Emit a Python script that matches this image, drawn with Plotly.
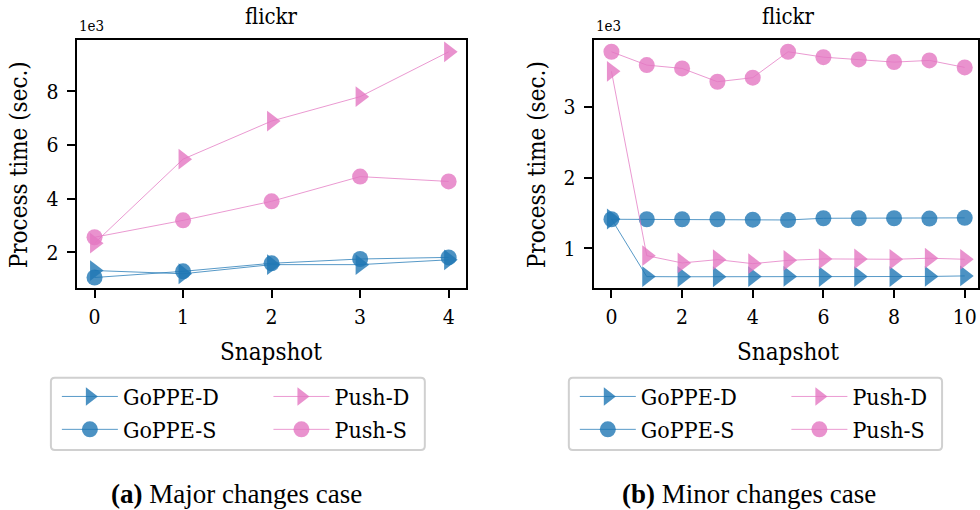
import plotly.graph_objects as go

W, H = 980, 510


def px(x):
    return x / W


def py(y):
    return 1 - y / H


# ---------------- data (seconds) ----------------
snap_major = [0, 1, 2, 3, 4]
snap_minor = [0, 1, 2, 3, 4, 5, 6, 7, 8, 9, 10]

major_goppe_d = [1320, 1200, 1540, 1540, 1720]
major_goppe_s = [1060, 1290, 1590, 1750, 1810]
major_push_d = [2340, 5470, 6890, 7800, 9470]
major_push_s = [2560, 3190, 3900, 4820, 4640]

minor_goppe_d = [1414, 600, 598, 598, 600, 602, 600, 600, 600, 602, 610]
minor_goppe_s = [1410, 1410, 1410, 1410, 1405, 1400, 1424, 1424, 1424, 1420, 1430]
minor_push_d = [3500, 896, 793, 840, 783, 830, 850, 850, 845, 860, 845]
minor_push_s = [3776, 3588, 3541, 3353, 3410, 3776, 3700, 3668, 3630, 3654, 3555]

series_names = ["GoPPE-D", "GoPPE-S", "Push-D", "Push-S"]
major_ticks = [2000, 4000, 6000, 8000]
major_ticktext = ["2", "4", "6", "8"]
minor_ticks = [1000, 2000, 3000]
minor_ticktext = ["1", "2", "3"]
minor_xticks = [0, 2, 4, 6, 8, 10]

BLUE_M = "rgba(31,119,180,0.8)"
BLUE_L = "rgba(31,119,180,0.75)"
PINK_M = "rgba(227,119,194,0.8)"
PINK_L = "rgba(227,119,194,0.75)"
FONT = "DejaVu Serif Condensed"
CAP_FONT = "Liberation Serif"

styles = {
    "GoPPE-D": ("triangle-right", 18, BLUE_M, BLUE_L),
    "GoPPE-S": ("circle", 16, BLUE_M, BLUE_L),
    "Push-D": ("triangle-right", 18, PINK_M, PINK_L),
    "Push-S": ("circle", 16, PINK_M, PINK_L),
}

fig = go.Figure()

panels = [
    ("x", "y", snap_major, [major_goppe_d, major_goppe_s, major_push_d, major_push_s], ("legend", "legend2")),
    ("x2", "y2", snap_minor, [minor_goppe_d, minor_goppe_s, minor_push_d, minor_push_s], ("legend3", "legend4")),
]

for xa, ya, xs, ys_list, legs in panels:
    for name, ys in zip(series_names, ys_list):
        sym, size, mc, lc = styles[name]
        leg = legs[0] if name.startswith("GoPPE") else legs[1]
        fig.add_trace(go.Scatter(
            x=xs, y=ys, name=name, mode="lines+markers",
            xaxis=xa, yaxis=ya, legend=leg, legendgroup=leg + name,
            line=dict(color=lc, width=1),
            marker=dict(symbol=sym, size=size, color=mc, line=dict(width=0)),
        ))

# ---------------- axes ----------------
ax_common = dict(
    showline=True, mirror=True, linecolor="black", linewidth=2,
    showgrid=False, zeroline=False, ticks="outside", ticklen=8, tickwidth=1.5,
    tickcolor="black", tickfont=dict(family=FONT, size=21, color="black"),
)
Y0, Y1 = 40.3, 288.3
fig.update_layout(
    xaxis=dict(domain=[px(77), px(467.3)], range=[-0.2, 4.2], tickvals=snap_major,
               anchor="y", **ax_common),
    yaxis=dict(domain=[py(Y1), py(Y0)], range=[658, 9900], tickvals=major_ticks,
               ticktext=major_ticktext, anchor="x", ticklabelstandoff=4, **ax_common),
    xaxis2=dict(domain=[px(595), 1.0], range=[-0.5, 10.376], tickvals=minor_xticks,
                anchor="y2", **ax_common),
    yaxis2=dict(domain=[py(Y1), py(Y0)], range=[435, 3938], tickvals=minor_ticks,
                ticktext=minor_ticktext, anchor="x2", ticklabelstandoff=4, **ax_common),
)

# ---------------- legends ----------------
def legend_cfg(x, y):
    return dict(
        x=px(x), y=py(y), xanchor="left", yanchor="top", orientation="v",
        bgcolor="rgba(0,0,0,0)", borderwidth=0, itemwidth=56, tracegroupgap=0,
        font=dict(family=FONT, size=23, color="black"),
    )

LX, LY = 57, 375
fig.update_layout(
    legend=legend_cfg(LX, LY),
    legend2=legend_cfg(LX + 212, LY),
    legend3=legend_cfg(LX + 519, LY),
    legend4=legend_cfg(LX + 519 + 212, LY),
    showlegend=True,
)


def rounded_box(x0, y0, x1, y1, r=4):
    X = lambda v: px(v)
    Y = lambda v: py(v)
    return (f"M {X(x0 + r)},{Y(y0)} L {X(x1 - r)},{Y(y0)} Q {X(x1)},{Y(y0)} {X(x1)},{Y(y0 + r)} "
            f"L {X(x1)},{Y(y1 - r)} Q {X(x1)},{Y(y1)} {X(x1 - r)},{Y(y1)} "
            f"L {X(x0 + r)},{Y(y1)} Q {X(x0)},{Y(y1)} {X(x0)},{Y(y1 - r)} "
            f"L {X(x0)},{Y(y0 + r)} Q {X(x0)},{Y(y0)} {X(x0 + r)},{Y(y0)} Z")


shapes = []
for x0, x1 in [(51, 425.7), (570, 944)]:
    shapes.append(dict(type="path", xref="paper", yref="paper", path=rounded_box(x0, 377.7, x1, 450),
                       line=dict(color="#d0d0d0", width=2), fillcolor="rgba(255,255,255,0.8)", layer="below"))

# ---------------- text ----------------
ann = []
def text(x, y, s, size, family=FONT, **kw):
    d = dict(x=px(x), y=py(y), xref="paper", yref="paper", text=s, showarrow=False,
             font=dict(family=family, size=size, color="black"), xanchor="center", yanchor="middle")
    d.update(kw)
    ann.append(d)

for cx, fx in [(272, 77), (790, 595)]:
    text(cx, 16, "flickr", 22)
    text(fx, 26, "1e3", 15, xanchor="left")
    text(cx, 352, "Snapshot", 24)
for cx in [19, 538]:
    text(cx, 164.3, "Process time (sec.)", 24, textangle=-90)
text(237, 494, "<b>(a)</b> Major changes case", 27, family=CAP_FONT)
text(751, 494, "<b>(b)</b> Minor changes case", 27, family=CAP_FONT)

fig.update_layout(
    width=W, height=H, margin=dict(l=0, r=0, t=0, b=0),
    paper_bgcolor="white", plot_bgcolor="white",
    shapes=shapes, annotations=ann,
)

fig.write_html("out.html")
